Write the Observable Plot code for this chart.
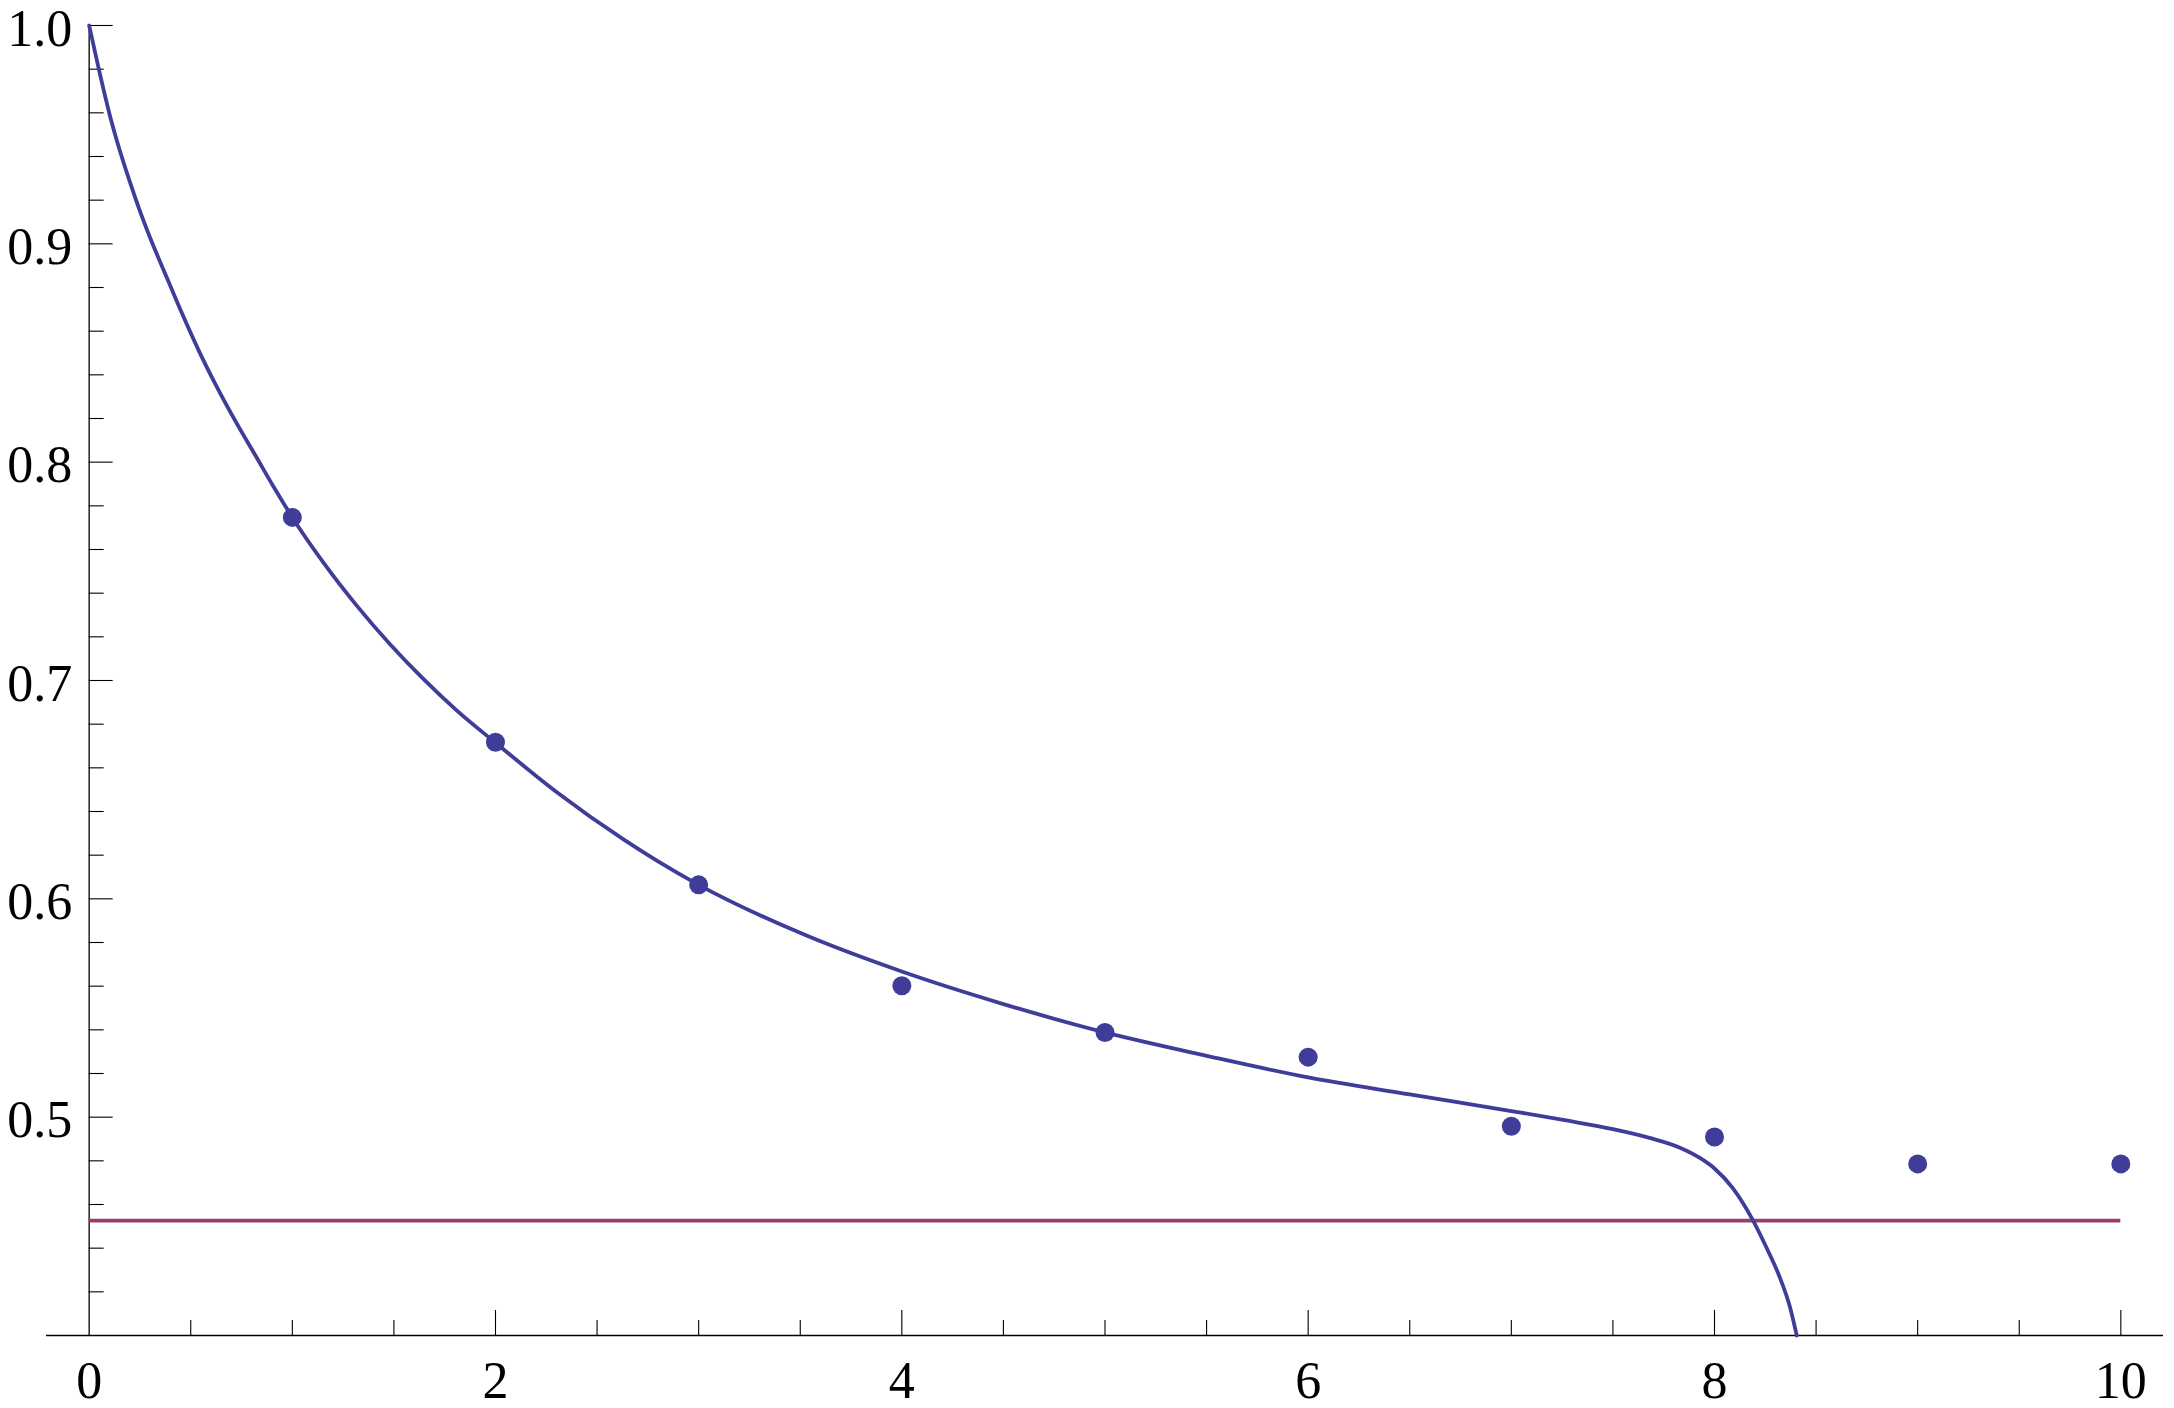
<!DOCTYPE html>
<html>
<head>
<meta charset="utf-8">
<script src="https://cdn.jsdelivr.net/npm/d3@7"></script>
<script src="https://cdn.jsdelivr.net/npm/@observablehq/plot@0.6"></script>
<style>
  html, body { margin: 0; padding: 0; background: #fff; }
  #chart svg { display: block; }
</style>
</head>
<body>
<div id="chart"></div>
<script>
// ---- Data ----
const pointX = [1, 2, 3, 4, 5, 6, 7, 8, 9, 10];
const pointY = [0.7747, 0.6717, 0.6064, 0.5602, 0.5388, 0.5275, 0.4958, 0.4909, 0.4786, 0.4786];

const curveX = [0, 0.05, 0.10, 0.15, 0.20, 0.25, 0.30, 0.38, 0.46, 0.54, 0.62, 0.72, 0.82, 0.91, 1.0,
  1.154, 1.318, 1.482, 1.646, 1.81, 2.0, 2.302, 2.63, 2.794, 3.0, 3.522, 4.0, 4.5, 5.0, 5.5, 6.0, 6.5, 7.0,
  7.27, 7.5, 7.68, 7.83, 7.93, 8.0, 8.09, 8.19, 8.255, 8.321, 8.37, 8.405];
const curveY = [1.0, 0.9790, 0.9595, 0.9430, 0.9285, 0.9150, 0.9028, 0.8850, 0.8675, 0.8510, 0.8360, 0.8188, 0.8028, 0.7884, 0.7747,
  0.7539, 0.7342, 0.7165, 0.7006, 0.6862, 0.6715, 0.6488, 0.6272, 0.6175, 0.6064, 0.5835, 0.5667, 0.5518, 0.5388, 0.5281, 0.5182, 0.5104, 0.5028,
  0.4985, 0.4945, 0.4905, 0.4860, 0.4812, 0.4765, 0.4675, 0.4526, 0.4404, 0.4267, 0.4135, 0.4];

const refLevel = 0.4526;
const refX = [0, 10];

const xDomain = [-0.21, 10.21];
const yDomain = [0.4, 1.0];

const xTickLabels = [0, 2, 4, 6, 8, 10];
const xMajorTicks = [2, 4, 6, 8, 10];
const xMinorTicks = [0.5, 1, 1.5, 2.5, 3, 3.5, 4.5, 5, 5.5, 6.5, 7, 7.5, 8.5, 9, 9.5];
const yTickLabels = [0.5, 0.6, 0.7, 0.8, 0.9, 1.0];
const yMinorTicks = [0.42, 0.44, 0.46, 0.48, 0.52, 0.54, 0.56, 0.58, 0.62, 0.64, 0.66, 0.68,
  0.72, 0.74, 0.76, 0.78, 0.82, 0.84, 0.86, 0.88, 0.92, 0.94, 0.96, 0.98];

// ---- Build tables ----
const points = pointX.map((x, i) => ({x, y: pointY[i]}));
const curve = curveX.map((x, i) => ({x, y: curveY[i]}));

const blue = "#3f3d99";
const plum = "#993d6f";
const font = "'Liberation Serif', 'Times New Roman', serif";

const chart = Plot.plot({
  width: 2174,
  height: 1408,
  marginLeft: 46,
  marginRight: 11,
  marginTop: 25,
  marginBottom: 73,
  style: {background: "#fff", fontFamily: font},
  x: {domain: xDomain, axis: null},
  y: {domain: yDomain, axis: null},
  marks: [
    // x axis line (spans the whole frame width)
    Plot.ruleY([yDomain[0]], {stroke: "#000", strokeWidth: 1.3}),
    // y axis line at x = 0
    Plot.ruleX([0], {y1: yDomain[0], y2: yDomain[1], stroke: "#000", strokeWidth: 1.3}),
    // x ticks (pointing up, inside)
    Plot.ruleX(xMajorTicks, {x: d => d, y1: yDomain[0], y2: yDomain[0], insetBottom: 25, stroke: "#000", strokeWidth: 1.1}),
    Plot.ruleX(xMinorTicks, {x: d => d, y1: yDomain[0], y2: yDomain[0], insetBottom: 15, stroke: "#000", strokeWidth: 1.1}),
    // y ticks (pointing right, inside)
    Plot.ruleY(yTickLabels, {y: d => d, x1: 0, x2: 0, insetRight: -24, stroke: "#000", strokeWidth: 1.1}),
    Plot.ruleY(yMinorTicks, {y: d => d, x1: 0, x2: 0, insetRight: -15, stroke: "#000", strokeWidth: 1.1}),
    // tick labels
    Plot.text(xTickLabels, {
      x: d => d, frameAnchor: "bottom", dy: 62, lineAnchor: "bottom",
      text: d => String(d), fontSize: 52, fontFamily: font, fill: "#000", textAnchor: "middle"
    }),
    Plot.text(yTickLabels, {
      x: 0, y: d => d, dx: -17, dy: 20, lineAnchor: "bottom", textAnchor: "end",
      text: d => d.toFixed(1), fontSize: 52, fontFamily: font, fill: "#000"
    }),
    // horizontal reference line
    Plot.ruleY([refLevel], {x1: refX[0], x2: refX[1], stroke: plum, strokeWidth: 3.8}),
    // fitted curve
    Plot.line(curve, {x: "x", y: "y", curve: "monotone-x", stroke: blue, strokeWidth: 3.8, strokeLinejoin: "round"}),
    // data points
    Plot.dot(points, {x: "x", y: "y", r: 9.5, fill: blue, stroke: "none"})
  ]
});

document.getElementById("chart").appendChild(chart);
</script>
</body>
</html>
